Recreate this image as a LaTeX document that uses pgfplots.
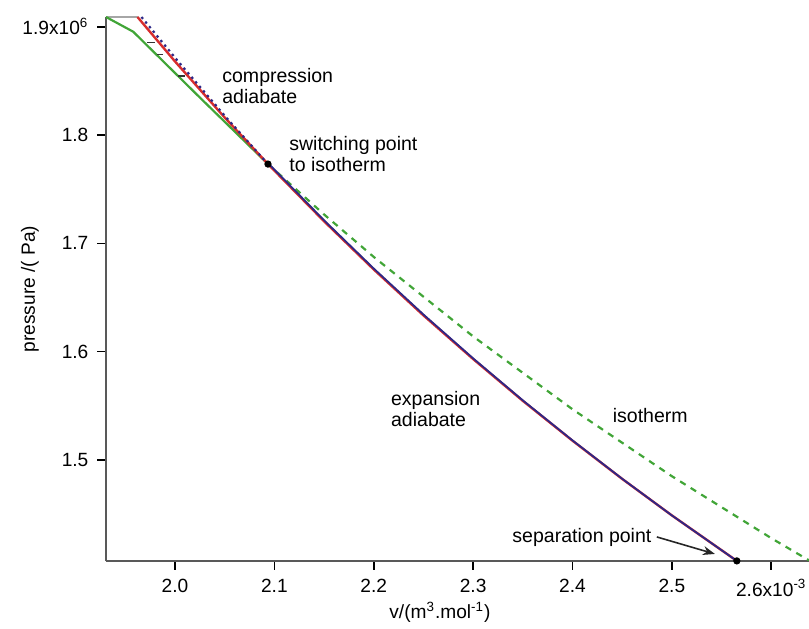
\documentclass[border=0pt]{standalone}
\usepackage{pgfplots}
\pgfplotsset{compat=1.18}
\usepackage{fontspec}
\setmainfont{Liberation Sans}
\usetikzlibrary{arrows.meta}

\definecolor{adred}{RGB}{215,45,45}
\definecolor{adblue}{RGB}{45,40,135}
\definecolor{isogreen}{RGB}{65,165,55}

\begin{document}
\begin{tikzpicture}
\begin{axis}[
  scale only axis,
  width=351.5bp, height=272bp,
  xmin=1.9306, xmax=2.638,
  ymin=1.4067, ymax=1.909,
  axis lines=left,
  axis line style={-, gray!70!black, line width=0.8pt},
  tick style={black, line width=0.8pt},
  tick align=outside,
  major tick length=4.3bp,
  clip=false,
  font=\fontsize{9.6}{11}\selectfont,
  xtick={2.0,2.1,2.2,2.3,2.4,2.5,2.6},
  xticklabels={2.0,2.1,2.2,2.3,2.4,2.5,2.6x10\textsuperscript{-3}},
  ytick={1.5,1.6,1.7,1.8,1.9},
  yticklabels={1.5,1.6,1.7,1.8,1.9x10\textsuperscript{6}},
  xticklabel style={yshift=-1.5bp},
  yticklabel style={xshift=-1bp},
  xlabel={v/(m\textsuperscript{3}.mol\textsuperscript{-1})},
  ylabel={pressure /( Pa)},
  every axis x label/.style={at={(axis description cs:0.475,0)}, yshift=-25.5bp, anchor=center},
  every axis y label/.style={at={(axis description cs:0,0.5)}, xshift=-38bp, rotate=90, anchor=center},
]
% top edge segment
\addplot[gray!70, line width=0.8pt] coordinates {(1.9306,1.9088) (1.9623,1.9088)};
% compression branch (green solid)
\addplot[isogreen, line width=1.1pt] coordinates {
  (1.9306,1.909) (1.958,1.8954) (2.0252,1.8345) (2.0936,1.7732)};
% small step marks
\addplot[black!80, line width=0.7pt, unbounded coords=jump] coordinates {
  (1.9718,1.8852) (1.9799,1.8852) (nan,nan)
  (1.9819,1.8741) (1.9879,1.8741) (nan,nan)
  (2.0030,1.8547) (2.0101,1.8547)};
% isotherm (green dashed)
\addplot[isogreen, line width=1.1pt, dash pattern=on 3.2bp off 3bp] coordinates {
  (2.0936,1.7732) (2.15,1.7267) (2.2,1.6875) (2.3,1.6141)
  (2.4,1.5468) (2.5,1.4850) (2.6,1.4278) (2.638,1.4073)};
% adiabate (red solid)
\addplot[adred, line width=1.2pt] coordinates {
  (1.9623,1.9090) (2.0,1.8680) (2.05,1.8162) (2.0936,1.7732)
  (2.15,1.7204) (2.2,1.6759) (2.25,1.6335) (2.3,1.5932)
  (2.35,1.5546) (2.4,1.5178) (2.45,1.4825) (2.5,1.4488) (2.5654,1.4068)};
% compression adiabate (blue dotted)
\addplot[adblue, line width=1.1pt, dash pattern=on 1.2bp off 1.8bp] coordinates {
  (1.9663,1.9090) (2.0032,1.8680) (2.0516,1.8162) (2.0936,1.7732)};
% expansion adiabate (blue solid)
\addplot[adblue, line width=0.9pt] coordinates {
  (2.0946,1.7732) (2.1510,1.7204) (2.2010,1.6759) (2.2510,1.6335) (2.3008,1.5932)
  (2.3506,1.5546) (2.4004,1.5178) (2.4502,1.4825) (2.5,1.4488) (2.5654,1.4068)};
% switching and separation points
\addplot[only marks, mark=*, mark size=1.6bp, black] coordinates {(2.0936,1.7732) (2.5654,1.4068)};

\draw[-{Stealth[length=6bp,width=4.5bp]}, line width=0.8pt, black!85]
  (axis cs:2.4849,1.4289) -- (axis cs:2.5433,1.4132);

\node[anchor=north west, align=left, inner sep=0pt, font=\fontsize{9.8}{10.6}\selectfont]
  at (axis cs:2.0473,1.8621) {compression\\adiabate};
\node[anchor=north west, align=left, inner sep=0pt, font=\fontsize{9.8}{10.6}\selectfont]
  at (axis cs:2.1147,1.7991) {switching point\\to isotherm};
\node[anchor=north west, align=left, inner sep=0pt, font=\fontsize{9.8}{10.6}\selectfont]
  at (axis cs:2.2171,1.564) {expansion\\adiabate};
\node[anchor=north west, inner sep=0pt, font=\fontsize{9.8}{10.6}\selectfont]
  at (axis cs:2.4402,1.548) {isotherm};
\node[anchor=north west, inner sep=0pt, font=\fontsize{9.8}{10.6}\selectfont]
  at (axis cs:2.3392,1.4372) {separation point};

\coordinate (sw) at (rel axis cs:0,0);
\coordinate (ne) at (rel axis cs:1,1);
\end{axis}
\pgfresetboundingbox
\path ([xshift=-53bp,yshift=-34bp]sw) rectangle ([yshift=8.5bp]ne);
\end{tikzpicture}
\end{document}
